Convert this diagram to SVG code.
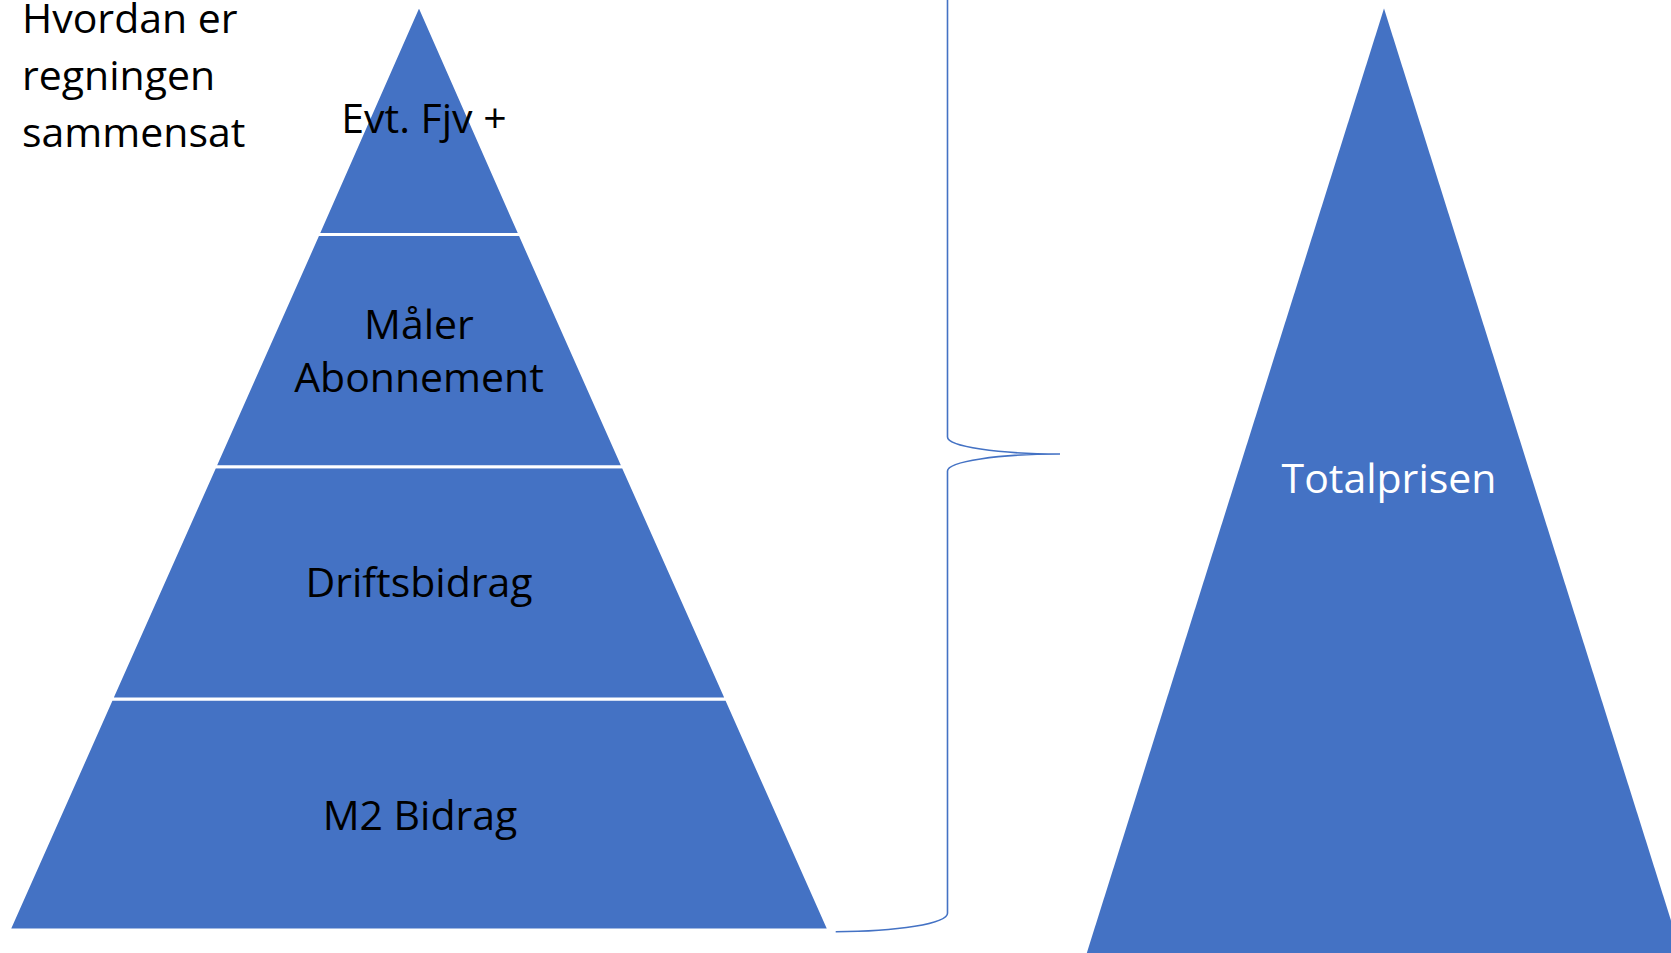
<svg xmlns="http://www.w3.org/2000/svg" width="1671" height="953" viewBox="0 0 1671 953">
  <style>
    .band { fill: #4472C4; stroke: #FFFFFF; stroke-width: 3; stroke-linejoin: miter; }
    .lbl { font-family: "Open Sans", "Noto Sans", sans-serif; font-size: 41px; fill: #000000; text-anchor: middle; }
    .lblw { font-family: "Open Sans", "Noto Sans", sans-serif; font-size: 41px; fill: #FFFFFF; text-anchor: middle; }
    .title { font-family: "Open Sans", "Noto Sans", sans-serif; font-size: 41px; fill: #000000; }
    .brace { fill: none; stroke: #4472C4; stroke-width: 1.6; }
  </style>
  <rect x="0" y="0" width="1671" height="953" fill="#FFFFFF"/>

  <g id="title">
    <text class="title" x="22" y="33">Hvordan er</text>
    <text class="title" x="22" y="90">regningen</text>
    <text class="title" x="22" y="147">sammensat</text>
  </g>

  <g id="level-m2-bidrag">
    <polygon class="band" points="111.6,699 726.4,699 829,930 9,930"/>
    <text class="lbl" x="420" y="830">M2 Bidrag</text>
  </g>
  <g id="level-driftsbidrag">
    <polygon class="band" points="214.8,466.8 623.2,466.8 726.4,699 111.6,699"/>
    <text class="lbl" x="419" y="597">Driftsbidrag</text>
  </g>
  <g id="level-maaler-abonnement">
    <polygon class="band" points="318,234.5 520,234.5 623.2,466.8 214.8,466.8"/>
    <text class="lbl" x="419" y="339">Måler</text>
    <text class="lbl" x="419" y="392">Abonnement</text>
  </g>
  <g id="level-evt-fjv">
    <polygon class="band" points="419,5 520,234.5 318,234.5"/>
    <text class="lbl" x="424" y="133">Evt. Fjv +</text>
  </g>

  <g id="connectors">
    <path class="brace" d="M 835.7 -23.7 A 111.8 18.4 0 0 1 947.5 -5.3 L 947.5 437 A 112.5 17 0 0 0 1060 454 A 112.5 17 0 0 0 947.5 471 L 947.5 913.3 A 111.8 18.4 0 0 1 835.7 931.7"/>
  </g>

  <g id="totalprisen">
    <polygon fill="#4472C4" points="1384,8.5 1696,1000 1072,1000"/>
    <text class="lblw" x="1389" y="493">Totalprisen</text>
  </g>
</svg>
